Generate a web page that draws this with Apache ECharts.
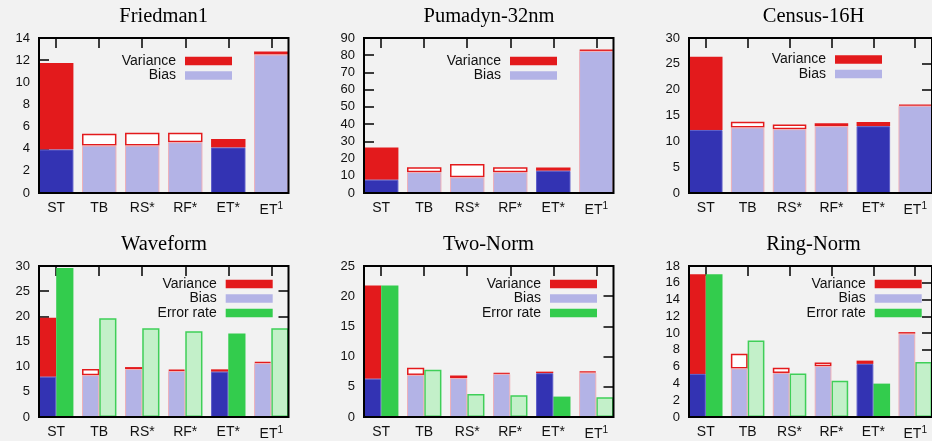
<!DOCTYPE html>
<html><head><meta charset="utf-8">
<script src="https://cdn.jsdelivr.net/npm/echarts@6/dist/echarts.min.js"></script>
<style>html,body{margin:0;padding:0;background:#f2f2f2}#c{width:932px;height:441px}</style>
</head><body><div id="c"></div>
<script>
// ---- data ----
const categories = ['ST', 'TB', 'RS*', 'RF*', 'ET*', 'ET1'];
const titles = ['Friedman1', 'Pumadyn-32nm', 'Census-16H', 'Waveform', 'Two-Norm', 'Ring-Norm'];
const yMax = [14, 90, 30, 30, 25, 18];
const yStep = [2, 10, 5, 5, 5, 2];
const highlighted = [0, 4]; // ST and ET* drawn in solid colours

const biasFriedman1 = [3.92, 4.28, 4.28, 4.58, 4.10, 12.5];
const varianceFriedman1 = [7.83, 1.08, 1.17, 0.87, 0.78, 0.27];
const biasPumadyn = [7.7, 12.1, 9.1, 12.1, 12.9, 82.5];
const variancePumadyn = [18.7, 2.9, 7.7, 2.9, 1.9, 0.7];
const biasCensus = [12.2, 12.67, 12.35, 12.92, 12.92, 16.9];
const varianceCensus = [14.16, 1.13, 0.89, 0.58, 0.84, 0.18];
const biasWaveform = [8.0, 8.3, 9.53, 9.14, 9.0, 10.69];
const varianceWaveform = [11.7, 1.23, 0.39, 0.26, 0.47, 0.26];
const errorWaveform = [29.6, 19.64, 17.64, 17.06, 16.6, 17.64];
const biasTwoNorm = [6.33, 6.97, 6.44, 7.14, 7.24, 7.35];
const varianceTwoNorm = [15.45, 1.18, 0.43, 0.16, 0.27, 0.16];
const errorTwoNorm = [21.78, 7.83, 3.81, 3.6, 3.38, 3.27];
const biasRingNorm = [5.14, 5.79, 5.25, 6.06, 6.33, 9.93];
const varianceRingNorm = [11.89, 1.74, 0.62, 0.43, 0.39, 0.19];
const errorRingNorm = [17.03, 9.12, 5.18, 4.33, 3.98, 6.57];

const biasAll = [biasFriedman1, biasPumadyn, biasCensus, biasWaveform, biasTwoNorm, biasRingNorm];
const varianceAll = [varianceFriedman1, variancePumadyn, varianceCensus, varianceWaveform, varianceTwoNorm, varianceRingNorm];
const errorAll = [null, null, null, errorWaveform, errorTwoNorm, errorRingNorm];

// ---- style / layout ----
const RED = '#e31a1c', LAV = '#b3b3e6', BLUE = '#3333b3', GREEN = '#33cc4d', LGREEN = '#c3f0c9';
const SANS = 'Liberation Sans, Arial, sans-serif';
const gridLeft = [39, 364, 689, 39, 364, 689];
const gridTop = [38, 38, 38, 266, 266, 266];
const gridW = 249.5, gridH = 155;
const titleX = [163.7, 489, 813.5, 164, 488.5, 813.5];
const titleY = [17, 17, 17, 244.3, 244.3, 244.3];
const legendRight = [700, 375, 50, 659.3, 335, 10.3];
const legendTop = [54, 54, 52.5, 277, 277, 277];
const ticksAt = categories.map((c, k) => k);

const option = {
  backgroundColor: '#f2f2f2',
  animation: false,
  title: [], grid: [], xAxis: [], yAxis: [], legend: [], series: []
};

const tickOpt = () => ({ show: true, inside: true, length: 10, lineStyle: { color: '#000', width: 1.5 } });
const noLine = () => ({ show: false, onZero: false });

// main grids 0..5 : bottom x axis (index i), left y (2i) and right y (2i+1)
for (let i = 0; i < 6; i++) {
  const two = !!errorAll[i];
  option.title.push({
    text: titles[i], left: titleX[i], top: titleY[i], padding: 0,
    textAlign: 'center', textVerticalAlign: 'middle',
    textStyle: { fontFamily: 'Liberation Serif, Times New Roman, serif', fontSize: 20.5, fontWeight: 'normal', color: '#000' }
  });
  option.grid.push({
    left: gridLeft[i], top: gridTop[i], width: gridW, height: gridH,
    show: true, backgroundColor: 'transparent', borderColor: '#000', borderWidth: 2, z: 5
  });
  option.xAxis.push({
    type: 'value', gridIndex: i, min: -0.4, max: 5.4, position: 'bottom',
    axisLine: noLine(), splitLine: { show: false }, axisTick: { show: false },
    axisLabel: {
      customValues: ticksAt, margin: 8, fontSize: 14, fontFamily: SANS, color: '#111',
      formatter: v => { const c = categories[Math.round(v)]; return c === 'ET1' ? '{a|ET}{s|1}' : c; },
      rich: { a: { fontSize: 14, fontFamily: SANS, color: '#111' }, s: { fontSize: 10, fontFamily: SANS, color: '#111', verticalAlign: 'top', padding: [0, 0, 8, 0] } }
    }
  });
  option.yAxis.push({
    type: 'value', gridIndex: i, min: 0, max: yMax[i], interval: yStep[i], position: 'left',
    axisLine: noLine(), splitLine: { show: false }, axisTick: tickOpt(),
    axisLabel: { margin: 9, fontSize: 13, fontFamily: SANS, color: '#111' }
  });
  option.yAxis.push({
    type: 'value', gridIndex: i, min: 0, max: yMax[i], interval: yStep[i], position: 'right',
    axisLine: noLine(), splitLine: { show: false }, axisTick: tickOpt(),
    axisLabel: { show: false }
  });
  option.legend.push({
    data: two ? ['Variance', 'Bias', 'Error rate'] : ['Variance', 'Bias'],
    orient: 'vertical', align: 'right', right: legendRight[i], top: legendTop[i], padding: 0,
    itemWidth: 47, itemHeight: 8.5, itemGap: 0.5, icon: 'rect', selectedMode: false,
    itemStyle: { borderWidth: 0 },
    textStyle: { fontSize: 14, fontFamily: SANS, color: '#111', padding: [0, 4, 0, 0] }
  });
  const bw = two ? '40%' : '80%';
  // data items are [value, categoryIndex]; encode maps column 1 to x so the stack runs on the value column
  const enc = { x: 1, y: 0 };
  option.series.push({
    type: 'bar', name: 'Bias', xAxisIndex: i, yAxisIndex: 2 * i, stack: 'bv' + i, encode: enc,
    barWidth: bw, barGap: '0%', z: 3, itemStyle: { color: LAV },
    data: biasAll[i].map((v, k) => ({
      value: [v, k],
      itemStyle: highlighted.includes(k) ? { color: BLUE, borderColor: '#5c5cc8', borderWidth: 1 }
                                       : { color: LAV, borderColor: '#eeb0b8', borderWidth: 1 }
    }))
  });
  option.series.push({
    type: 'bar', name: 'Variance', xAxisIndex: i, yAxisIndex: 2 * i, stack: 'bv' + i, encode: enc,
    barWidth: bw, barGap: '0%', z: 2, itemStyle: { color: RED },
    data: varianceAll[i].map((v, k) => ({
      value: [v, k],
      itemStyle: highlighted.includes(k) ? { color: RED, borderWidth: 0 }
                                       : { color: '#ffffff', borderColor: RED, borderWidth: 1.5 }
    }))
  });
  if (two) {
    option.series.push({
      type: 'bar', name: 'Error rate', xAxisIndex: i, yAxisIndex: 2 * i, encode: enc,
      barWidth: bw, barGap: '0%', z: 2, itemStyle: { color: GREEN },
      data: errorAll[i].map((v, k) => ({
        value: [v, k],
        itemStyle: highlighted.includes(k) ? { color: GREEN, borderWidth: 0 }
                                         : { color: LGREEN, borderColor: '#3fcf58', borderWidth: 1.5 }
      }))
    });
  }
}

// overlay grids 6..11 : carry only the mirrored top tick marks at the category positions
for (let i = 0; i < 6; i++) {
  option.grid.push({ left: gridLeft[i], top: gridTop[i], width: gridW, height: gridH, show: false });
  option.xAxis.push({
    type: 'value', gridIndex: 6 + i, min: -0.4, max: 5.4, position: 'top',
    axisLine: noLine(), splitLine: { show: false },
    axisTick: Object.assign(tickOpt(), { customValues: ticksAt }),
    axisLabel: { show: true, customValues: ticksAt, formatter: () => '' }
  });
  option.yAxis.push({
    type: 'value', gridIndex: 6 + i, min: 0, max: 1, show: false,
    axisLine: noLine(), splitLine: { show: false }
  });
}

const chart = echarts.init(document.getElementById('c'), null, { renderer: 'canvas' });
chart.setOption(option);
</script>
</body></html>
